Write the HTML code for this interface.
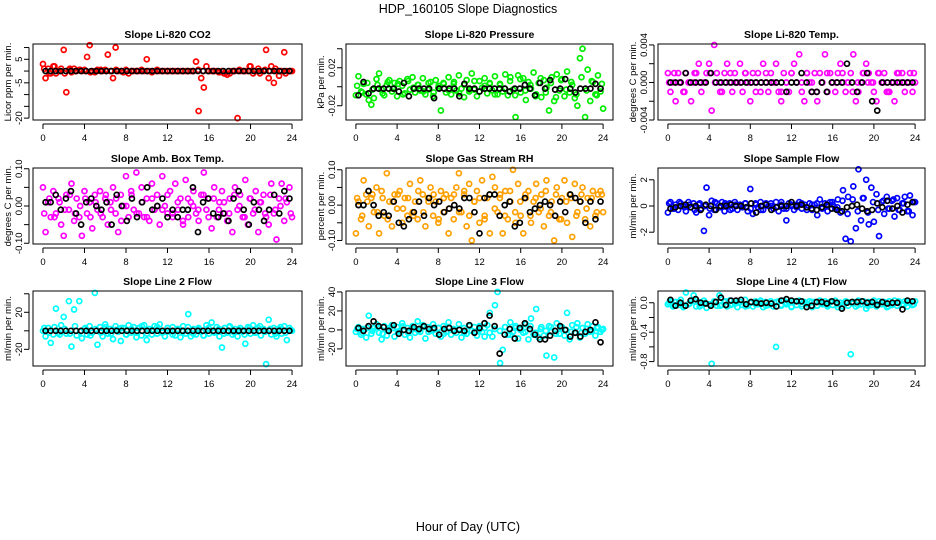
<!DOCTYPE html>
<html><head><meta charset="utf-8"><style>
html,body{margin:0;padding:0;background:#fff;}
svg{display:block;font-family:"Liberation Sans",sans-serif;}
</style></head><body>
<svg id="chart" width="936" height="540" viewBox="0 0 936 540">
<rect width="936" height="540" fill="#fff"/>
<text x="468" y="13" text-anchor="middle" font-size="12.5">HDP_160105  Slope Diagnostics</text>
<text x="468" y="531" text-anchor="middle" font-size="12.5">Hour of Day (UTC)</text>
</svg>
<script>
// ---------- data ----------
const xTicks = [0,4,8,12,16,20,24];
const titles = ["Slope Li-820 CO2","Slope Li-820 Pressure","Slope Li-820 Temp.","Slope Amb. Box Temp.","Slope Gas Stream RH","Slope Sample Flow","Slope Line 2 Flow","Slope Line 3 Flow","Slope Line 4 (LT) Flow"];
const yTitles = ["Licor ppm per min.","kPa per min.","degrees C per min.","degrees C per min.","percent per min.","ml/min per min.","ml/min per min.","ml/min per min.","ml/min per min."];

const co2Color = [3,-3,1,-1,2,-1,0,1,9,-9,0.5,-0.5,1,0,0.5,0,0.5,6,11,0,-0.5,0.5,0,0,0.5,7,0,-3,10,0,0,-0.5,0.5,-1,0,0,0,0,0.5,0,5,0,-0.5,0,0.5,0,0,0,0,0,0,0,0,0,0,0,0,0,0,4,-17,-3,-7,2,0,0,0,0,-0.5,0,-1,-1.5,-1,0,0,-20,0,0,0,0,2,-1,0,1,0,0,9,-3,2,-5,0,-2,0,8,0,0,0];
const co2Color2 = [1,-1,2,0,-1,1,0,0.5,0,-0.5,0,0.5,0,0,0.5,0,0,0,0,0,0,0,0,0,0,0,0,0,0,0,0.5,0,0,0,-0.5,-1,0,0,0.5,0,2,0,-1,0.5,0,1,0,-1,0];
const co2Black = [0,0,0,0,0,0,0,0,0,0,0,0,0,0,0,0,0,0,0,0,0,0,0,0,0,0,0,0,0,0,0,0,0,0,0,0,0,0,0,0,0,0,0,0,0,0,0,0,0];

const presColor = [-0.009,0.011,-0.005,0.003,-0.008,-0.014,-0.019,-0.012,0.008,0.014,-0.003,-0.009,0.002,0.007,-0.005,0.004,-0.010,0.006,0.001,-0.007,0.008,-0.003,0.010,-0.006,0.002,-0.004,0.009,-0.008,-0.003,0.005,-0.010,0.007,-0.001,-0.025,0.004,-0.006,0.010,-0.008,0.003,-0.004,0.012,-0.002,-0.011,0.007,-0.005,0.014,-0.003,-0.010,0.006,-0.001,0.009,-0.007,0.003,-0.004,0.011,-0.008,0.002,-0.005,0.013,-0.009,0.010,-0.003,-0.032,0.012,-0.006,0.009,-0.014,0.005,-0.002,0.015,-0.008,0.004,-0.011,0.007,-0.001,-0.025,0.010,-0.015,0.013,-0.004,0.008,-0.010,0.016,-0.006,0.002,-0.012,-0.020,0.030,0.040,-0.032,0.018,-0.015,0.005,-0.008,0.012,-0.005,-0.023];
const presColor2 = [0.001,-0.006,0.004,-0.003,0.002,-0.007,0.005,-0.002,0.003,-0.008,0.006,-0.001,0.002,-0.005,0.004,-0.006,0.001,0.003,-0.004,0.005,-0.007,0.002,-0.003,0.006,-0.005,0.001,0.004,-0.008,0.003,-0.002,0.006,-0.009,0.008,-0.004,0.002,-0.010,0.009,-0.006,0.004,-0.011,0.007,-0.003,0.005,-0.008,0.010,-0.004,0.006,-0.009,0.003];
const presBlack = [-0.009,0.005,-0.007,-0.002,-0.002,-0.002,-0.002,-0.002,-0.005,0.004,-0.010,-0.002,-0.002,-0.002,-0.002,-0.012,-0.002,-0.002,-0.002,-0.002,-0.010,0.003,-0.002,-0.002,-0.005,-0.002,-0.002,-0.002,-0.002,-0.002,-0.005,-0.002,-0.002,0.002,-0.002,-0.009,0.004,-0.002,0.007,-0.003,-0.002,0.008,-0.002,-0.006,-0.002,-0.002,-0.002,0.003,-0.002];

const tempColor = [0.001,-0.001,0,-0.002,0.001,0,-0.001,0.001,0,-0.002,0,0.001,0.002,-0.001,0,0.001,0.002,-0.003,0.004,0.001,0,-0.001,0.001,0.002,0,-0.001,0.001,0,0.002,-0.001,0.001,0,-0.002,0.001,0,0.001,-0.001,0.002,0,-0.001,0.001,0,0.002,-0.001,-0.002,0.001,0,-0.001,0.001,0.002,0,0.003,-0.001,-0.002,0.001,0,-0.001,0.001,-0.002,0.001,0,0.003,-0.001,0.001,0,-0.001,0.001,0.002,0,-0.001,0,0.001,0.003,-0.002,-0.001,0,0.001,0.002,0.001,0,-0.001,-0.002,0.001,0,0.001,-0.001,-0.001,0,-0.002,0.001,0,0.001,-0.001,0,0.001,-0.001,0];
const tempColor2 = [0,0.001,0,-0.001,0,0.001,0,0,0.001,0,-0.001,0,0.001,0,0,0.001,0,-0.001,0,0.001,0,0,-0.001,0,0.001,0,0,0.001,0,-0.001,0,0.001,0,0,0.001,0,-0.001,0,0.001,0,0,0.001,0,-0.001,0,0.001,0,0,0.001];
const tempBlack = [0,0,0,0.001,0,0,0,0,0.001,0,0,0,0,0,0,0,0,0,0,0,0,0,0,-0.001,0,0,0.001,0,-0.001,-0.001,0,-0.001,0,0,0,0.002,0,-0.001,0,0.001,-0.002,-0.003,0,0,0,0,0,0,0];

const boxColor = [0.05,-0.07,0.01,-0.03,0.04,-0.02,0.02,-0.05,-0.08,0.03,-0.01,0.06,-0.04,0.02,-0.03,-0.08,0.04,-0.02,0.01,-0.06,0.03,-0.01,0.04,-0.03,0.02,-0.05,0.01,0.05,-0.02,-0.07,0.03,0,0.08,-0.03,0.04,-0.01,0.09,-0.02,0.05,-0.03,0.02,-0.04,0.06,-0.01,0.03,-0.05,0.08,0,-0.02,0.04,-0.03,0.06,-0.01,0.02,-0.05,0.07,-0.03,0.01,0.04,-0.02,-0.04,0.03,0.09,-0.01,0.02,-0.06,0.05,-0.03,0.01,0.04,-0.02,-0.04,0.02,-0.07,0.05,-0.01,0.03,-0.03,0.07,-0.05,0.02,-0.02,0.04,-0.07,0.01,0.03,-0.03,-0.05,0.06,-0.02,-0.09,0.02,0.06,-0.04,0.01,0.05,-0.03];
const boxColor2 = [-0.02,0.02,-0.03,0.01,-0.01,0.03,-0.02,0,0.02,-0.03,0.01,-0.02,0.03,-0.01,0.02,-0.04,0,0.03,-0.02,0.01,-0.03,0.02,0,-0.01,0.03,-0.02,0.01,-0.04,0.02,0,-0.01,0.03,-0.03,0.02,-0.01,0.01,-0.02,0.03,0,-0.03,0.02,-0.01,0.01,-0.02,0.03,-0.01,0,0.02,-0.02];
const boxBlack = [0.01,0.01,0.03,-0.01,0.02,0.04,-0.02,-0.05,0.01,0.02,0,-0.01,0.01,-0.05,0.03,0,-0.04,0.02,-0.03,0.01,0.05,-0.01,0,0.02,-0.03,-0.01,-0.03,-0.01,-0.01,0.05,-0.07,0.01,0.02,-0.02,-0.03,-0.02,-0.04,0.02,0.04,-0.01,-0.05,0.01,-0.01,-0.04,-0.01,0.03,-0.02,0.04,0.02];

const rhColor = [-0.08,0.01,-0.04,0.07,0.03,-0.06,0.02,-0.02,0.05,-0.08,0.04,-0.03,0.09,0.01,-0.06,0.03,-0.01,0.04,-0.05,0.02,-0.03,0.06,-0.02,0.01,-0.04,0.07,0.03,-0.06,0.02,0.05,-0.03,0.01,-0.05,0.04,-0.02,0.03,-0.08,0.02,-0.04,0.05,0.09,-0.02,0.03,-0.06,0.06,-0.1,0.01,0.04,-0.05,0.07,-0.03,0.02,-0.08,0.08,0.05,-0.02,0.03,-0.08,0.04,-0.04,0.01,0.1,-0.05,0.06,-0.03,-0.08,0.02,0.04,-0.05,0.01,0.06,-0.02,0.03,-0.06,0.07,-0.03,0.01,-0.1,0.05,-0.04,0.02,0.07,-0.05,0.03,-0.09,0.06,-0.02,0.01,0.05,-0.04,0.02,-0.06,0.04,-0.03,0.03,0.04,-0.02];
const rhColor2 = [0.02,-0.03,0.01,0.03,-0.02,0.02,-0.04,0.01,0.03,-0.01,0.02,-0.03,0.04,-0.02,0.01,0.03,-0.04,0.02,-0.01,0.03,-0.02,0.04,-0.03,0.01,0.02,-0.04,0.03,-0.01,0.02,-0.03,0.04,-0.02,0.01,0.03,-0.03,0.02,-0.01,0.04,-0.02,0.03,-0.04,0.01,0.02,-0.03,0.03,-0.01,0.02,-0.02,0.03];
const rhBlack = [0,0,0.04,0,-0.03,-0.02,-0.03,0.01,-0.05,-0.06,-0.04,-0.02,0.01,-0.03,0.02,0,0.01,-0.02,-0.01,0,-0.01,0.02,0.02,-0.02,-0.08,0.02,0.03,0.03,-0.03,0,0.01,-0.06,-0.05,0.02,-0.02,-0.01,0,0.01,0,-0.03,0.01,-0.02,0.03,0.02,0.01,-0.05,0.01,-0.04,0.01];

const flowColor = [-0.5,0.3,-0.2,0.1,-0.3,0.2,0,-0.4,0.3,-0.1,0.2,-0.5,0.1,-0.2,-1.9,1.4,-0.7,0.4,-0.3,0.2,-0.1,0.3,-0.4,0.1,0.2,-0.2,0.3,-0.3,0.1,-0.1,0.2,-0.4,1.3,-0.6,0.2,-0.1,0.3,-0.3,0.1,0,0.2,-0.2,0.3,-0.4,0.1,-0.2,-1.1,0.2,0,-0.3,0.1,0.3,-0.2,0.1,-0.1,0.2,-0.3,0.1,-0.7,0.5,-0.1,0.2,-0.4,0.3,0.1,-0.2,0.5,-0.5,1.2,-2.5,0.7,-2.7,1.5,-1.7,2.8,-1.1,0.6,2.0,-1.4,1.4,-1.2,0.9,-2.3,0.3,-0.6,0.7,-0.2,0.4,-0.8,0.6,-0.3,0.2,0.7,-0.4,0.8,-0.7,0.3];
const flowColor2 = [0.2,-0.2,0.3,-0.1,0.1,-0.3,0.2,0,-0.2,0.3,-0.1,0.2,-0.3,0.1,0,0.2,-0.2,0.1,-0.3,0.2,0,-0.1,0.3,-0.2,0.1,-0.1,0.2,-0.3,0.1,0.2,-0.2,0,0.3,-0.1,0.4,-0.6,0.5,-0.4,0.6,-0.5,0.3,-0.3,0.4,-0.2,0.5,-0.3,0.2,-0.4,0.3];
const flowBlack = [-0.2,-0.1,0,0.1,-0.1,0,-0.3,0.1,0,-0.3,0,0,0.1,0,0,-0.1,0.2,-0.5,0,0.1,-0.3,-0.1,0,0,0.3,0,0.1,-0.1,-0.2,-0.3,-0.1,0.1,-0.2,-0.3,-0.4,-0.1,0,0.1,-0.2,-0.4,-0.3,0.2,-0.1,0.4,-0.2,0,-0.5,0.1,0.3];

const line2Color = [0,-6,3,-13,-4,24,-2,6,15,-3,32,-17,23,-5,32,-8,2,-4,5,-2,41,-15,4,-6,7,-3,2,-9,5,-1,-11,3,-4,6,-2,4,-7,3,-5,6,-10,2,-4,5,-3,7,-2,-6,3,-1,4,-5,2,-7,5,-3,18,-6,2,-4,3,-1,-5,6,-3,9,-2,4,-6,-18,3,-2,5,-4,2,-6,3,-1,-14,4,-3,6,-2,3,-5,2,-36,12,-4,3,-6,2,-3,5,-10,3,0];
const line2Color2 = [3,-2,4,-4,2,-3,5,-1,3,-5,2,-2,4,-3,1,3,-4,2,-2,5,-3,1,4,-2,3,-4,2,-1,4,-3,2,-5,3,-1,2,-3,4,-2,1,-4,3,-2,5,-1,2,-3,4,-2,1];
const line2Black = [0,0,0,0,0,0,0,0,0,0,0,0,0,0,0,0,0,0,0,0,0,0,0,0,0,0,0,0,0,0,0,0,0,0,0,0,0,0,0,0,0,0,0,0,0,0,0,0,0];

const line3Color = [-2,3,-5,1,-8,15,-4,2,6,-3,-10,4,-6,2,5,-7,3,-1,7,-5,2,-8,4,-3,9,-2,5,-9,3,-1,6,-4,2,-7,4,-2,8,-5,1,-3,6,-8,2,-4,5,-1,3,-6,4,-2,-7,5,18,-7,26,40,-35,-21,3,-5,8,-2,4,-9,2,-3,6,-10,12,-5,22,-8,3,-6,-27,4,-2,-29,7,-4,3,-6,18,-10,5,-3,7,-8,2,-4,6,-2,4,-6,3,-2,1];
const line3Color2 = [1,-3,2,-1,3,-4,0,2,-2,4,-3,1,-1,3,-2,0,2,-4,3,-1,1,-3,4,-2,0,2,-3,1,-1,3,-5,2,0,-2,4,-3,1,-1,3,-4,2,0,-2,3,-3,1,-1,2,0];
const line3Black = [2,-1,4,9,4,3,-1,5,-4,0,-1,3,1,4,1,2,-5,1,2,-1,0,-1,5,-3,2,7,15,4,-25,-5,1,-9,2,7,1,-5,-10,-10,-6,-1,4,0,-7,-3,-7,-2,0,8,-13];

const line4Color = [-0.02,0.02,-0.05,0.01,-0.03,0.04,-0.06,0.14,-0.02,0.02,0.10,-0.05,0.01,-0.03,0.03,-0.07,-0.02,-0.83,0.02,-0.04,0.10,-0.03,0.01,-0.05,0.03,-0.02,0.02,-0.06,0.01,-0.03,0.04,-0.04,0,-0.05,0.02,-0.02,0.03,-0.06,0.01,-0.03,0.02,-0.05,-0.6,0.02,-0.04,0.03,-0.02,0.01,-0.06,0.02,-0.03,0.03,-0.05,0.01,-0.02,0.02,-0.06,0.01,-0.04,0.03,-0.02,0.02,-0.05,0.01,-0.03,0.03,-0.06,0,-0.02,0.02,-0.04,-0.7,0.01,-0.05,0.03,-0.02,0.02,-0.08,0.01,-0.03,0.03,-0.05,0.02,-0.02,0.01,-0.06,0.02,-0.03,0.03,-0.04,0.01,-0.02,0.02,-0.05,0.01,-0.03,0.02];
const line4Color2 = [0,-0.03,0.01,-0.04,-0.01,0.02,-0.05,0,-0.02,0.01,-0.04,0.02,-0.03,-0.01,0.01,-0.05,0,-0.02,0.02,-0.04,-0.01,0.01,-0.03,0,-0.05,0.02,-0.02,-0.01,0.01,-0.04,0,-0.03,0.02,-0.02,-0.05,0.01,-0.01,-0.03,0.02,-0.04,0,-0.02,0.01,-0.05,-0.01,0.02,-0.03,0,-0.02];
const line4Black = [0.04,-0.04,0,-0.04,0.03,0.05,0,-0.01,-0.04,0.01,0.07,-0.03,0.03,0.03,0.04,-0.02,0.01,0,-0.01,0,-0.01,-0.05,0.03,0.05,0.03,0.02,0.02,-0.06,-0.04,0.01,0.01,-0.01,0.02,0,-0.08,0,0.01,0.01,0.02,0,0.01,-0.03,0.01,-0.01,0,0,-0.09,0.03,0.02];

const colorSeries = [co2Color,presColor,tempColor,boxColor,rhColor,flowColor,line2Color,line3Color,line4Color];
const colorSeries2 = [co2Color2,presColor2,tempColor2,boxColor2,rhColor2,flowColor2,line2Color2,line3Color2,line4Color2];
const blackSeries = [co2Black,presBlack,tempBlack,boxBlack,rhBlack,flowBlack,line2Black,line3Black,line4Black];
const seriesColors = ["#ff0000","#00ee00","#ff00ff","#ff00ff","#ffa000","#0000ff","#00ffff","#00ffff","#00ffff"];
const yLims = [[-20.8,11.5],[-0.035,0.045],[-0.004,0.0041],[-0.102,0.102],[-0.11,0.105],[-2.9,2.9],[-38,43],[-38,41],[-0.86,0.16]];
const yTickVals = [[-20,-15,-10,-5,0,5,10],[-0.02,0,0.02,0.04],[-0.004,-0.002,0,0.002,0.004],[-0.1,-0.05,0,0.05,0.1],[-0.1,-0.05,0,0.05,0.1],[-2,0,2],[-20,0,20,40],[-20,0,20,40],[-0.8,-0.6,-0.4,-0.2,0]];
const yTickLabels = [["-20","","","-5","","5",""],["-0.02","","0.02",""],["-0.004","","0.000","","0.004"],["-0.10","","0.00","","0.10"],["-0.10","","0.00","","0.10"],["-2","0","2"],["-20","","20",""],["-20","0","20","40"],["-0.8","","-0.4","","0.0"]];

// ---------- layout ----------
const cols = [[33,302],[346,613],[658,925]];
const rows = [[44,120],[168,244],[291,366]];
const NS = "http://www.w3.org/2000/svg";
const svg = document.getElementById('chart');
function mk(tag, attrs, parent){ const e=document.createElementNS(NS,tag); for(const k in attrs) e.setAttribute(k,attrs[k]); (parent||svg).appendChild(e); return e; }

for(let p=0;p<9;p++){
  const [L,R]=cols[p%3], [T,B]=rows[Math.floor(p/3)];
  const g=mk('g',{});
  
  
  const xs=t=>L+(t+0.96)/25.92*(R-L);
  const [y0,y1]=yLims[p];
  const ys=v=>B-(v-y0)/(y1-y0)*(B-T);
  const cx=(L+R)/2;
  const tt=mk('text',{x:cx,y:T-6,'text-anchor':'middle','font-size':10.5,'font-weight':'bold'},g); tt.textContent=titles[p];
  
  
  const yt=mk('text',{x:0,y:0,'text-anchor':'middle','font-size':9.5,transform:`translate(${L-22},${(T+B)/2}) rotate(-90)`},g); yt.textContent=yTitles[p];
  
  
  // points
  const drawSeries=(arr,t0,t1,col,name)=>{
    const n=arr.length;
    arr.forEach((v,i)=>{
      const t=t0+i*(t1-t0)/(n-1);
      const c=mk('circle',{cx:xs(t),cy:ys(v),r:2.5,fill:'none',stroke:col,'stroke-width':1.7},g);
      
      
    });
  };
  drawSeries(colorSeries[p],0,24,seriesColors[p],'point');
  drawSeries(colorSeries2[p],0.12,23.88,seriesColors[p],'point');
  drawSeries(blackSeries[p],0.25,23.75,'#000','black-point');
  // box
  const bx=mk('rect',{x:L,y:T,width:R-L,height:B-T,fill:'none',stroke:'#000','stroke-width':1},g);
  
  
  // x axis
  mk('line',{x1:xs(0),x2:xs(24),y1:B+4,y2:B+4,stroke:'#000'},g);
  xTicks.forEach(t=>{
    mk('line',{x1:xs(t),x2:xs(t),y1:B+4,y2:B+9,stroke:'#000'},g);
    const lb=mk('text',{x:xs(t),y:B+21,'text-anchor':'middle','font-size':9.5},g); lb.textContent=t;
    
    
  });
  // y axis
  const tv=yTickVals[p];
  mk('line',{x1:L-4,x2:L-4,y1:ys(tv[0]),y2:ys(tv[tv.length-1]),stroke:'#000'},g);
  tv.forEach((v,i)=>{
    mk('line',{x1:L-9,x2:L-4,y1:ys(v),y2:ys(v),stroke:'#000'},g);
    if(yTickLabels[p][i]){
      const lb=mk('text',{x:0,y:0,'text-anchor':'middle','font-size':9.5,transform:`translate(${L-11},${ys(v)}) rotate(-90)`},g);
      lb.textContent=yTickLabels[p][i];
      
      
    }
  });
}
</script>
</body></html>
